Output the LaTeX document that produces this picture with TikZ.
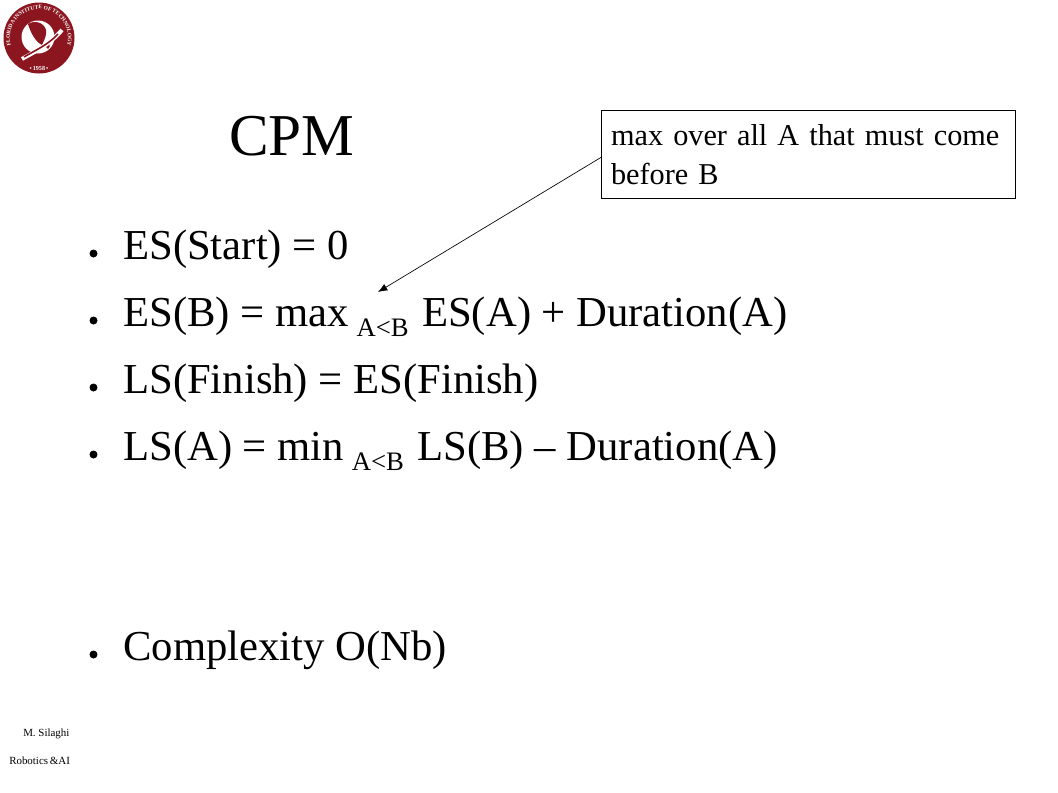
\documentclass[tikz,border=0pt]{standalone}
\usepackage{fontspec}
\setmainfont{Liberation Serif}
\usetikzlibrary{positioning,arrows.meta,decorations.text}
\definecolor{sealred}{RGB}{140,22,32}
\tikzstyle{title} = [anchor=base west, inner sep=0pt, font=\fontsize{44.5}{54}\selectfont]
\tikzstyle{item} = [anchor=base west, inner sep=0pt, font=\fontsize{32}{38}\selectfont]
\tikzstyle{dot} = [circle, fill=black, inner sep=0pt, minimum size=6pt]
\tikzstyle{note} = [draw, rectangle, line width=0.6pt, anchor=north west, inner sep=0pt, minimum width=310.5pt, minimum height=66pt, text width=296pt, align=left, font=\fontsize{22.7}{29}\selectfont]
\tikzstyle{footer} = [anchor=base west, inner sep=0pt, font=\fontsize{8.2}{9}\selectfont]
\tikzstyle{line} = [draw, line width=0.5pt, -{Latex[length=7pt,width=5.5pt]}]
\newcommand{\under}[1]{\hspace*{-2.2pt}\raisebox{-8pt}{\fontsize{20}{24}\selectfont #1}\hspace*{2.2pt}}
\begin{document}
\begin{tikzpicture}[x=0.75pt, y=-0.75pt]
\useasboundingbox (0,0) rectangle (1058,793);
% Seal
	\fill [sealred] (39,38) circle (35.5);
	\fill [white] (38,37) circle (16.5);
	\fill [sealred] (28,24) .. controls (34,20) and (44,22) .. (46,30) .. controls (47,36) and (44,40) .. (42,45) .. controls (36,42) and (31,34) .. (28,24) -- cycle;
	\fill [sealred] (46,43) .. controls (50,43) and (51,46) .. (48,49) .. controls (46,48) and (45,46) .. (46,43) -- cycle;
	\draw [white, line width=3pt] (22,59) .. controls (34,52) and (48,46) .. (62,30);
	\draw [sealred, line width=1.2pt] (24,57) .. controls (34,51) and (48,45) .. (58,34);
	\path [decorate, decoration={text along path, text align=center, text={|\fontsize{4.1}{5}\selectfont\bfseries\color{white}|FLORIDA INSTITUTE OF TECHNOLOGY}}] (15.2,54.6) arc [start angle=145, end angle=395, radius=29];
	\node [inner sep=0pt, text=white, font=\fontsize{4.6}{5}\selectfont\bfseries] (year) at (39,68) {\textbullet\,1958\,\textbullet};
% Title
	\node [title] (cpm) at (229,155) {CPM};
% Items
	\node [item] (start) at (123,259) {ES(Start) = 0};
	\node [item] (esb) at (123,326) {ES(B) = max \under{A<B} ES(A) + Duration(A)};
	\node [item] (finish) at (123,393) {LS(Finish) = ES(Finish)};
	\node [item] (lsa) at (123,460) {LS(A) = min \under{A<B} LS(B) -- Duration(A)};
	\node [item] (nb) at (123,660) {Complexity O(Nb)};
% Bullets
	\node [dot] (b1) at (93.5,253.5) {};
	\node [dot] (b2) at (93.5,320.5) {};
	\node [dot] (b3) at (93.5,387.5) {};
	\node [dot] (b4) at (93.5,454.5) {};
	\node [dot] (b5) at (93.5,654.5) {};
% Note
	\node [note] (over) at (601,110) {max over all A that must come before B};
	\coordinate (tip) at (378,292);
	\path [line] (over.west) ++(0,3) -- (tip);
% Footer
	\node [footer] (name) at (23,736) {M. Silaghi};
	\node [footer] (lab) at (9,764) {Robotics\,\&AI};
\end{tikzpicture}
\end{document}
